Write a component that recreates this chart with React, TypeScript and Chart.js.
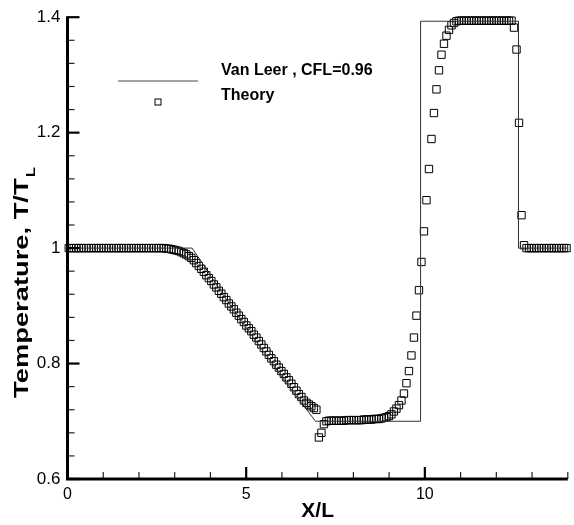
import React, { useEffect, useRef } from 'react';
import { Chart, registerables } from 'chart.js';

Chart.register(...registerables);

const FONT = '"Liberation Sans", Arial, sans-serif';

// Axis ranges and ticks
const xMin = 0;
const xMax = 14;
const yMin = 0.6;
const yMax = 1.4;
const xMajorTicks = [0, 5, 10];
const xTickLabels = ['0', '5', '10'];
const xMinorTicks = [1, 2, 3, 4, 6, 7, 8, 9, 11, 12, 13, 14];
const yMajorTicks = [0.6, 0.8, 1, 1.2, 1.4];
const yTickLabels = ['0.6', '0.8', '1', '1.2', '1.4'];
const yMinorTicks = [0.64, 0.68, 0.72, 0.76, 0.84, 0.88, 0.92, 0.96, 1.04, 1.08, 1.12, 1.16, 1.24, 1.28, 1.32, 1.36];

// Titles
const xTitle = 'X/L';
const yTitleMain = 'Temperature, T/T';
const yTitleSub = 'L';

// Series labels
const lineLabel = 'Van Leer , CFL=0.96';
const squaresLabel = 'Theory';

// Solid line series
const lineX = [0, 3.49, 4.35, 5.22, 6.08, 6.94, 9.88, 9.88, 12.62, 12.62, 14];
const lineY = [1.0, 1.0, 0.92, 0.843, 0.77, 0.70, 0.70, 1.393, 1.393, 1.0, 1.0];

// Square-marker series: 200 cells of width 0.07, values at cell centres
const cellWidth = 0.07;
const squareY = [
  1, 1, 1, 1, 1, 1, 1, 1, 1, 1,
  1, 1, 1, 1, 1, 1, 1, 1, 1, 1,
  1, 1, 1, 1, 1, 1, 1, 1, 1, 1,
  1, 1, 1, 1, 1, 1, 1, 1, 1, 0.999,
  0.999, 0.998, 0.997, 0.996, 0.995, 0.993, 0.991, 0.989, 0.986, 0.983,
  0.979, 0.974, 0.969, 0.964, 0.959, 0.953, 0.948, 0.943, 0.937, 0.932,
  0.926, 0.921, 0.915, 0.910, 0.904, 0.899, 0.894, 0.888, 0.883, 0.877,
  0.872, 0.866, 0.861, 0.856, 0.850, 0.845, 0.839, 0.833, 0.827, 0.821,
  0.815, 0.809, 0.804, 0.798, 0.793, 0.787, 0.782, 0.776, 0.771, 0.765,
  0.759, 0.753, 0.747, 0.742, 0.736, 0.732, 0.729, 0.726, 0.723, 0.720,
  0.672, 0.680, 0.695, 0.700, 0.701, 0.701, 0.701, 0.701, 0.701, 0.701,
  0.701, 0.702, 0.702, 0.702, 0.702, 0.702, 0.702, 0.702, 0.703, 0.703,
  0.703, 0.703, 0.704, 0.704, 0.704, 0.705, 0.706, 0.707, 0.709, 0.712,
  0.717, 0.722, 0.728, 0.736, 0.748, 0.766, 0.787, 0.814, 0.845, 0.883,
  0.927, 0.976, 1.029, 1.083, 1.137, 1.189, 1.234, 1.275, 1.308, 1.335,
  1.354, 1.368, 1.378, 1.386, 1.390, 1.393, 1.394, 1.394, 1.394, 1.394,
  1.394, 1.394, 1.394, 1.394, 1.394, 1.394, 1.394, 1.394, 1.394, 1.394,
  1.394, 1.394, 1.394, 1.394, 1.394, 1.394, 1.394, 1.394, 1.382, 1.344,
  1.217, 1.057, 1.005, 1, 1, 1, 1, 1, 1, 1,
  1, 1, 1, 1, 1, 1, 1, 1, 1, 1,
];
const squareX = squareY.map((_, i) => (i + 0.5) * cellWidth);

const decorPlugin = {
  id: 'decor',
  afterDatasetsDraw(chart: any) {
    const { ctx, chartArea, scales } = chart;
    const xs = scales.x;
    const ys = scales.y;
    const { left, right, top, bottom } = chartArea;
    ctx.save();
    ctx.fillStyle = '#000';
    ctx.lineCap = 'butt';

    // minor ticks
    ctx.lineWidth = 1.2;
    ctx.strokeStyle = '#222';
    for (const v of xMinorTicks) {
      const p = xs.getPixelForValue(v);
      ctx.beginPath();
      ctx.moveTo(p, bottom);
      ctx.lineTo(p, bottom - 7);
      ctx.stroke();
    }
    for (const v of yMinorTicks) {
      const p = ys.getPixelForValue(v);
      ctx.beginPath();
      ctx.moveTo(left, p);
      ctx.lineTo(left + 7, p);
      ctx.stroke();
    }
    // major ticks
    ctx.strokeStyle = '#000';
    ctx.lineWidth = 2.2;
    for (const v of xMajorTicks) {
      const p = xs.getPixelForValue(v);
      ctx.beginPath();
      ctx.moveTo(p, bottom);
      ctx.lineTo(p, bottom - 12);
      ctx.stroke();
    }
    for (const v of yMajorTicks) {
      const p = ys.getPixelForValue(v);
      ctx.beginPath();
      ctx.moveTo(left, p);
      ctx.lineTo(left + 12, p);
      ctx.stroke();
    }
    // axis lines
    ctx.lineWidth = 3;
    ctx.beginPath();
    ctx.moveTo(left, top - 1);
    ctx.lineTo(left, bottom);
    ctx.lineTo(right, bottom);
    ctx.stroke();

    // x title
    ctx.font = `bold 21px ${FONT}`;
    ctx.textAlign = 'center';
    ctx.textBaseline = 'middle';
    ctx.fillText(xTitle, (left + right) / 2, 511);

    // y title with subscript (text drawn slightly stretched along its direction)
    ctx.save();
    ctx.translate(28, 283);
    ctx.rotate(-Math.PI / 2);
    ctx.scale(1.3, 1);
    ctx.textAlign = 'left';
    ctx.textBaseline = 'alphabetic';
    ctx.font = `bold 21px ${FONT}`;
    const mainW = ctx.measureText(yTitleMain).width;
    ctx.font = `bold 13px ${FONT}`;
    const subW = ctx.measureText(yTitleSub).width;
    const start = -(mainW + subW) / 2;
    ctx.font = `bold 21px ${FONT}`;
    ctx.fillText(yTitleMain, start, 0);
    ctx.font = `bold 13px ${FONT}`;
    ctx.fillText(yTitleSub, start + mainW + 1, 7);
    ctx.restore();

    // legend
    const ds = chart.data.datasets;
    ctx.font = `bold 16px ${FONT}`;
    ctx.textAlign = 'left';
    ctx.textBaseline = 'middle';
    ctx.fillStyle = '#000';
    ctx.fillText(ds[0].label, 221, 71);
    ctx.fillText(ds[1].label, 221, 96);
    ctx.strokeStyle = '#444';
    ctx.lineWidth = 1;
    ctx.beginPath();
    ctx.moveTo(118, 81);
    ctx.lineTo(198, 81);
    ctx.stroke();
    ctx.strokeStyle = '#000';
    ctx.strokeRect(155, 99, 6, 6);

    ctx.restore();
  },
};

export default function App() {
  const canvasRef = useRef<HTMLCanvasElement | null>(null);

  useEffect(() => {
    if (!canvasRef.current) return;
    const chart = new Chart(canvasRef.current, {
      type: 'scatter',
      data: {
        datasets: [
          {
            label: lineLabel,
            data: lineX.map((x, i) => ({ x, y: lineY[i] })),
            showLine: true,
            borderColor: '#333',
            borderWidth: 1,
            pointRadius: 0,
            tension: 0,
            fill: false,
          },
          {
            label: squaresLabel,
            data: squareX.map((x, i) => ({ x, y: squareY[i] })),
            showLine: false,
            pointStyle: 'rect',
            pointRadius: 5.2,
            pointBorderWidth: 1,
            borderColor: '#000',
            pointBorderColor: '#000',
            backgroundColor: 'rgba(0,0,0,0)',
            pointBackgroundColor: 'rgba(0,0,0,0)',
            clip: false,
          },
        ],
      },
      options: {
        animation: false,
        responsive: true,
        maintainAspectRatio: false,
        events: [],
        layout: { padding: { top: 15, right: 0.6, left: 0, bottom: 0 } },
        plugins: { legend: { display: false }, tooltip: { enabled: false } },
        scales: {
          x: {
            type: 'linear',
            min: xMin,
            max: xMax,
            grid: { display: false, drawTicks: false },
            border: { display: false },
            afterBuildTicks: (s: any) => {
              s.ticks = xMajorTicks.map((v) => ({ value: v }));
            },
            afterFit: (s: any) => {
              s.height = 46;
            },
            ticks: {
              autoSkip: false,
              maxRotation: 0,
              padding: 6,
              color: '#000',
              font: { family: FONT, size: 16 },
              callback: (v: any) => {
                const k = xMajorTicks.indexOf(v);
                return k >= 0 ? xTickLabels[k] : '';
              },
            },
          },
          y: {
            type: 'linear',
            min: yMin,
            max: yMax,
            grid: { display: false, drawTicks: false },
            border: { display: false },
            afterBuildTicks: (s: any) => {
              s.ticks = yMajorTicks.map((v) => ({ value: v }));
            },
            afterFit: (s: any) => {
              s.width = 67.5;
            },
            ticks: {
              autoSkip: false,
              padding: 7,
              color: '#000',
              font: { family: FONT, size: 17 },
              callback: (v: any) => {
                const k = yMajorTicks.indexOf(v);
                return k >= 0 ? yTickLabels[k] : '';
              },
            },
          },
        },
      },
      plugins: [decorPlugin],
    } as any);
    return () => chart.destroy();
  }, []);

  return (
    <div style={{ position: 'absolute', left: 0, top: 0, width: 574, height: 525, background: '#fff' }}>
      <canvas ref={canvasRef} />
    </div>
  );
}
